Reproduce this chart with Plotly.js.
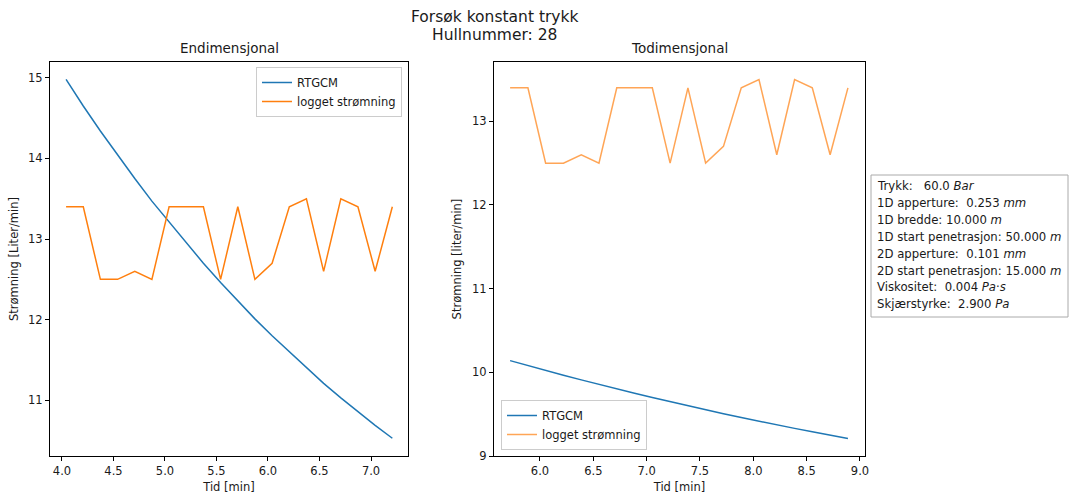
<!DOCTYPE html>
<html>
<head>
<meta charset="utf-8">
<script src="https://cdn.plot.ly/plotly-3.0.1.min.js"></script>
<style>
  html, body { margin: 0; padding: 0; background: #ffffff; }
  #chart { width: 1069px; height: 497px; }
</style>
</head>
<body>
<div id="chart"></div>
<script>
// ---- Data ----
const timeLeft = [4.040, 4.207, 4.373, 4.540, 4.707, 4.873, 5.040, 5.207, 5.373, 5.540,
                  5.707, 5.873, 6.040, 6.207, 6.373, 6.540, 6.707, 6.873, 7.040, 7.207];
const timeRight = [5.720, 5.887, 6.053, 6.220, 6.387, 6.553, 6.720, 6.887, 7.053, 7.220,
                   7.387, 7.553, 7.720, 7.887, 8.053, 8.220, 8.387, 8.553, 8.720, 8.887];
const rtgcmLeft = [14.98, 14.65, 14.34, 14.04, 13.75, 13.47, 13.21, 12.95, 12.70, 12.46,
                   12.23, 12.01, 11.80, 11.60, 11.40, 11.21, 11.03, 10.86, 10.69, 10.53];
const rtgcmRight = [10.14, 10.08, 10.02, 9.965, 9.91, 9.855, 9.80, 9.75, 9.70, 9.65,
                    9.60, 9.55, 9.505, 9.46, 9.415, 9.37, 9.33, 9.29, 9.25, 9.21];
const loggedFlow = [13.4, 13.4, 12.5, 12.5, 12.6, 12.5, 13.4, 13.4, 13.4, 12.5,
                    13.4, 12.5, 12.7, 13.4, 13.5, 12.6, 13.5, 13.4, 12.6, 13.4];

const xTicksLeft = [4.0, 4.5, 5.0, 5.5, 6.0, 6.5, 7.0];
const xTicksRight = [6.0, 6.5, 7.0, 7.5, 8.0, 8.5, 9.0];
const yTicksLeft = [11, 12, 13, 14, 15];
const yTicksRight = [9, 10, 11, 12, 13];

const seriesNames = ['RTGCM', 'logget strømning'];
const suptitleLines = ['Forsøk konstant trykk', 'Hullnummer: 28'];
const subplotTitles = ['Endimensjonal', 'Todimensjonal'];
const xLabel = 'Tid [min]';
const yLabels = ['Strømning [Liter/min]', 'Strømning [liter/min]'];
const infoLines = [
  'Trykk:\u00a0\u00a0 60.0 <i>Bar</i>',
  '1D apperture:\u00a0 0.253 <i>mm</i>',
  '1D bredde: 10.000 <i>m</i>',
  '1D start penetrasjon: 50.000 <i>m</i>',
  '2D apperture:\u00a0 0.101 <i>mm</i>',
  '2D start penetrasjon: 15.000 <i>m</i>',
  'Viskositet:\u00a0 0.004 <i>Pa</i>\u00b7<i>s</i>',
  'Skjærstyrke:\u00a0 2.900 <i>Pa</i>'
];

const FONT = 'DejaVu Sans, Liberation Sans, sans-serif';
const BLUE = '#1f77b4';
const ORANGE = '#ff7f0e';
const TXT = '#1a1a1a';

// plot-area geometry (pixels) used to convert to paper coordinates
const PL = 50, PR = 865, PT = 62, PB = 456;
const px = v => (v - PL) / (PR - PL);
const py = v => (PB - v) / (PB - PT);

const traces = [
  { x: timeLeft, y: rtgcmLeft, name: seriesNames[0], type: 'scatter', mode: 'lines',
    line: { color: BLUE, width: 1.5 }, xaxis: 'x', yaxis: 'y', legend: 'legend' },
  { x: timeLeft, y: loggedFlow, name: seriesNames[1], type: 'scatter', mode: 'lines',
    line: { color: ORANGE, width: 1.5 }, xaxis: 'x', yaxis: 'y', legend: 'legend' },
  { x: timeRight, y: rtgcmRight, name: seriesNames[0], type: 'scatter', mode: 'lines',
    line: { color: BLUE, width: 1.5 }, xaxis: 'x2', yaxis: 'y2', legend: 'legend2' },
  { x: timeRight, y: loggedFlow, name: seriesNames[1], type: 'scatter', mode: 'lines',
    line: { color: ORANGE, width: 1.5 }, opacity: 0.7, xaxis: 'x2', yaxis: 'y2', legend: 'legend2' }
];

const axisCommon = {
  showline: true, mirror: true, linecolor: '#000', linewidth: 1,
  showgrid: false, zeroline: false,
  ticks: 'outside', ticklen: 4, tickwidth: 1, tickcolor: '#000',
  tickfont: { family: FONT, size: 11.5, color: TXT }
};

const legendCommon = {
  bgcolor: 'rgba(255,255,255,0.8)', bordercolor: '#cccccc', borderwidth: 1,
  font: { family: FONT, size: 11.5, color: TXT },
  tracegroupgap: 0, itemwidth: 30
};

const annotations = [
  { text: suptitleLines[0], xref: 'paper', yref: 'paper', x: px(495), y: py(17),
    xanchor: 'center', yanchor: 'middle', showarrow: false,
    font: { family: FONT, size: 15.5, color: TXT } },
  { text: suptitleLines[1], xref: 'paper', yref: 'paper', x: px(495), y: py(35),
    xanchor: 'center', yanchor: 'middle', showarrow: false,
    font: { family: FONT, size: 15.5, color: TXT } },
  { text: subplotTitles[0], xref: 'x domain', yref: 'paper', x: 0.5, y: py(48),
    xanchor: 'center', yanchor: 'middle', showarrow: false,
    font: { family: FONT, size: 13.5, color: TXT } },
  { text: subplotTitles[1], xref: 'x2 domain', yref: 'paper', x: 0.5, y: py(48),
    xanchor: 'center', yanchor: 'middle', showarrow: false,
    font: { family: FONT, size: 13.5, color: TXT } }
];
infoLines.forEach((t, i) => {
  annotations.push({ text: t, xref: 'paper', yref: 'paper', x: px(875), y: py(186 + 16.9 * i),
    xanchor: 'left', yanchor: 'middle', align: 'left', showarrow: false,
    font: { family: FONT, size: 11.7, color: TXT } });
});

const layout = {
  width: 1069, height: 497,
  paper_bgcolor: '#ffffff', plot_bgcolor: '#ffffff',
  margin: { l: PL, r: 1069 - PR, t: PT, b: 497 - PB },
  font: { family: FONT, size: 11.5, color: TXT },
  xaxis: Object.assign({}, axisCommon, {
    domain: [0, px(408)], range: [3.884, 7.359], anchor: 'y',
    tickvals: xTicksLeft, tickformat: '.1f',
    title: { text: xLabel, font: { family: FONT, size: 11.5, color: TXT }, standoff: 6 }
  }),
  yaxis: Object.assign({}, axisCommon, {
    domain: [0, 1], range: [10.31, 15.195], anchor: 'x',
    tickvals: yTicksLeft,
    title: { text: yLabels[0], font: { family: FONT, size: 11.5, color: TXT }, standoff: 7 }
  }),
  xaxis2: Object.assign({}, axisCommon, {
    domain: [px(494), 1], range: [5.569, 9.047], anchor: 'y2',
    tickvals: xTicksRight, tickformat: '.1f',
    title: { text: xLabel, font: { family: FONT, size: 11.5, color: TXT }, standoff: 6 }
  }),
  yaxis2: Object.assign({}, axisCommon, {
    domain: [0, 1], range: [9.0, 13.709], anchor: 'x2',
    tickvals: yTicksRight,
    title: { text: yLabels[1], font: { family: FONT, size: 11.5, color: TXT }, standoff: 8 }
  }),
  legend: Object.assign({}, legendCommon, {
    x: px(402), xanchor: 'right', xref: 'paper',
    y: py(67), yanchor: 'top', yref: 'paper'
  }),
  legend2: Object.assign({}, legendCommon, {
    x: px(501), xanchor: 'left', xref: 'paper',
    y: py(450), yanchor: 'bottom', yref: 'paper'
  }),
  showlegend: true,
  shapes: [
    { type: 'rect', xref: 'paper', yref: 'paper',
      x0: px(871), x1: px(1068), y0: py(317), y1: py(175),
      line: { color: '#aaaaaa', width: 1 }, fillcolor: '#ffffff', layer: 'below' }
  ],
  annotations: annotations
};

Plotly.newPlot('chart', traces, layout, { staticPlot: true, displayModeBar: false });
</script>
</body>
</html>
